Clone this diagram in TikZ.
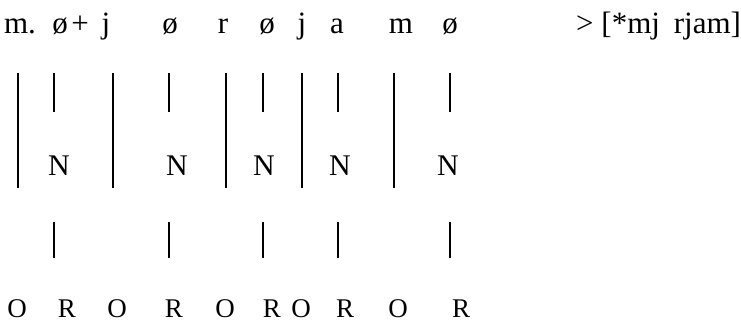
\documentclass[tikz,border=0pt]{standalone}
\usepackage{fontspec}
\setmainfont{Liberation Serif}
\tikzset{
  seg/.style={font=\fontsize{31}{34}\selectfont, anchor=base, inner sep=0pt},
  nuc/.style={font=\fontsize{30}{34}\selectfont, anchor=base, inner sep=0pt},
  slot/.style={font=\fontsize{27}{30}\selectfont, anchor=base, inner sep=0pt},
  bar/.style={line width=2pt}
}
\begin{document}
\begin{tikzpicture}[x=1pt, y=-1pt]
  \useasboundingbox (0,0) rectangle (741,324);

  %% -- segments --------------------------------------------------------
  \node[seg] (m1) at (20,33)  {m.};
  \node[seg] (z1) at (60,33)  {ø};
  \node[seg] (pl) at (80,33)  {+};
  \node[seg] (j1) at (106,33) {j};
  \node[seg] (z2) at (170,33) {ø};
  \node[seg] (r1) at (223,33) {r};
  \node[seg] (z3) at (267,33) {ø};
  \node[seg] (j2) at (302,33) {j};
  \node[seg] (a1) at (337,33) {a};
  \node[seg] (m2) at (401,33) {m};
  \node[seg] (z4) at (450,33) {ø};
  \node[seg, anchor=base west] (out) at (576,33) {> [*mj\hspace{0.45em}rjam]};

  %% -- syllable boundaries ---------------------------------------------
  \foreach \x in {18,113,226,302,394}
    \draw[bar] (\x,73) -- (\x,188);

  %% -- nuclei ----------------------------------------------------------
  \foreach \x/\nx [count=\i] in {54/59,169/177,263/264,338/340,450/448} {
    \node[nuc] (n\i) at (\nx,175) {N};
    \draw[bar] (\x,73) -- (\x,112);
    \draw[bar] (\x,222) -- (\x,258);
  }

  %% -- onset / rhyme ---------------------------------------------------
  \foreach \x/\t [count=\i] in {17/O,67/R,117/O,174/R,225/O,272/R,301/O,345/R,398/O,461/R}
    \node[slot] (p\i) at (\x,317) {\t};

\end{tikzpicture}
\end{document}
